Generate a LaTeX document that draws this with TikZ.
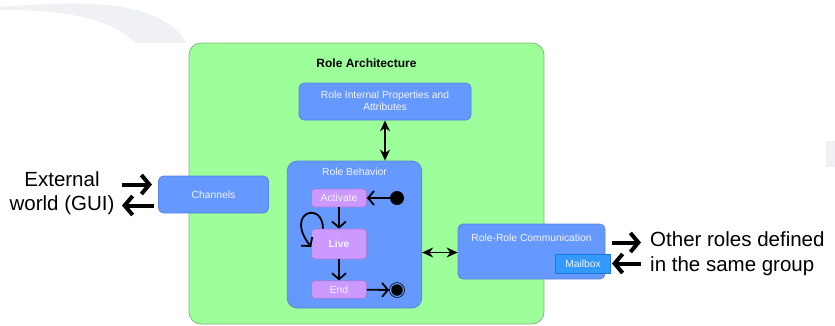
\documentclass[tikz,border=0pt]{standalone}
\usepackage{fontspec}
\setmainfont{Liberation Sans}
\usetikzlibrary{arrows.meta}
\definecolor{archgreen}{HTML}{9CFF99}
\definecolor{archgreenline}{HTML}{82B879}
\definecolor{partblue}{HTML}{6699FF}
\definecolor{partblueline}{HTML}{5A86DD}
\definecolor{statepurple}{HTML}{CC99FF}
\definecolor{statepurpleline}{HTML}{A57ACF}
\definecolor{mailblue}{HTML}{3399FF}
\definecolor{mailblueline}{HTML}{1F78D6}
\definecolor{hazegrey}{HTML}{F0F1F5}
\definecolor{softwhite}{HTML}{F2F4FF}
\newcommand{\fsz}[1]{\fontsize{#1}{#1}\selectfont}
\tikzset{
  part/.style={draw=partblueline, fill=partblue, rounded corners=5pt, line width=0.8pt,
    inner sep=0pt, text=softwhite, font=\fsz{10.3}, align=center},
  statebox/.style={draw=statepurpleline, fill=statepurple, rounded corners=3pt, line width=0.7pt,
    inner sep=0pt, text=softwhite, font=\fsz{10.3}},
  transition/.style={line width=1.8pt, -{Straight Barb[length=6pt,width=14pt]}},
  bigarrow/.style={line width=4pt, -{Straight Barb[length=8pt,width=19pt]}},
  linkarrow/.style={line width=1.5pt, {Stealth[length=11pt,width=10pt]}-{Stealth[length=11pt,width=10pt]}},
  bigtext/.style={font=\fsz{20.5}, inner sep=0pt},
}
\begin{document}
\begin{tikzpicture}[x=1pt, y=-1pt]
\useasboundingbox (0,0) rectangle (835,325);
% faint background shapes
\fill[hazegrey] (0,7) .. controls (90,0) and (160,0) .. (187,43) -- (135,43)
  .. controls (112,18) and (60,9) .. (0,10) -- cycle;
\fill[hazegrey] (826,141) rectangle (835,167);

% architecture frame
\node[draw=archgreenline, fill=archgreen, rounded corners=12pt, line width=0.8pt,
  minimum width=355pt, minimum height=281pt, inner sep=0pt] (arch) at (366.5,183.5) {};
\node[font=\bfseries\fsz{12}, inner sep=0pt] (archtitle) at (366.5,63) {Role Architecture};

% parts
\node[part, minimum width=172pt, minimum height=37pt] (props) at (385,101.5) {};
\node[font=\fsz{10.3}, text=softwhite, align=center, inner sep=0pt] (propstext) at (385,101)
  {Role Internal Properties and\\[1.6pt]Attributes};
\node[part, rounded corners=10pt, minimum width=134.5pt, minimum height=147pt] (behav) at (354.5,234.5) {};
\node[font=\fsz{10.3}, text=softwhite, inner sep=0pt] (behavtitle) at (354.5,172) {Role Behavior};
\node[part, minimum width=110pt, minimum height=37pt] (chan) at (213.5,194.5) {Channels};
\node[part, minimum width=147pt, minimum height=55pt] (comm) at (531.5,251.5) {};
\node[font=\fsz{10.3}, text=softwhite, inner sep=0pt] (commtitle) at (531.5,238) {Role-Role Communication};
\node[draw=mailblueline, fill=mailblue, line width=0.8pt, minimum width=55pt, minimum height=19pt,
  inner sep=0pt, text=softwhite, font=\fsz{10.3}] (mail) at (583,263.5) {Mailbox};

% states
\node[statebox, minimum width=55pt, minimum height=18pt] (act) at (339,198) {Activate};
\node[statebox, minimum width=55pt, minimum height=30pt, font=\bfseries\fsz{10.3}] (live) at (339,244) {Live};
\node[statebox, minimum width=55pt, minimum height=17.5pt] (fin) at (339,289.5) {End};
\node[circle, fill=black, minimum size=14pt, inner sep=0pt] (init) at (397,198) {};
\node[circle, draw=black, line width=0.6pt, minimum size=15pt, inner sep=0pt] (stop) at (397,290) {};
\node[circle, fill=black, minimum size=11.5pt, inner sep=0pt] (stopdot) at (397,290) {};

% transitions
\draw[transition] (init) -- (act);
\draw[transition] (act) -- (live);
\draw[transition] (live) -- (fin);
\draw[transition] (fin) -- (stop);
\draw[transition] ([xshift=-16pt]live.north) .. controls +(0,-28) and (284,212) .. ([yshift=-3pt]live.west);

% links between parts
\draw[linkarrow] (props) -- (props |- behav.north);
\draw[linkarrow] (behav.east |- 0,252.5) -- (comm.west |- 0,252.5);

% outside world
\node[bigtext, align=center] (ext) at (62,193) {External\\[4pt]world (GUI)};
\coordinate (extin) at (122,184.5);
\coordinate (extout) at (122,205.5);
\coordinate (chanin) at (152,184.5);
\coordinate (chanout) at (154,205.5);
\draw[bigarrow] (extin) -- (chanin);
\draw[bigarrow] (chanout) -- (extout);
\node[bigtext, anchor=west, align=left] (others) at (650,253.5) {Other roles defined\\[4pt]in the same group};
\coordinate (othout) at (641,242.5);
\coordinate (othin) at (641,263.5);
\coordinate (commout) at (612,242.5);
\coordinate (mailin) at (612,263.5);
\draw[bigarrow] (commout) -- (othout);
\draw[bigarrow] (othin) -- (mailin);
\end{tikzpicture}
\end{document}
